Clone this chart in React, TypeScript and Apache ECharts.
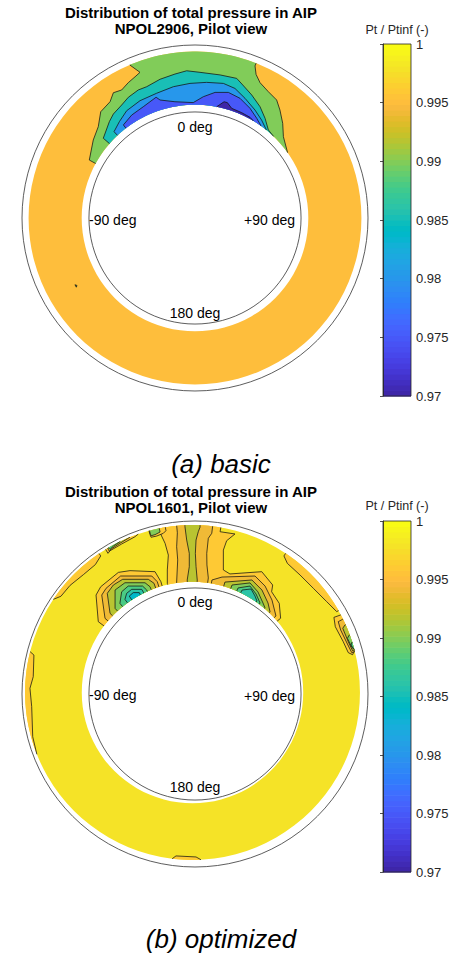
import React, { useEffect, useRef } from "react";
import * as echarts from "echarts";

type Pt = [number, number];
type Ring = { cx: number; cy: number; rIn: number; rOut: number };
type Region = { level: number; lines: Pt[][] };

// MATLAB parula, 64 entries
const PARULA: number[][] = [
  [0.2422, 0.1504, 0.6603], [0.2504, 0.165, 0.7076], [0.2578, 0.1818, 0.7511], [0.2647, 0.1978, 0.7952],
  [0.2706, 0.2147, 0.8364], [0.2751, 0.2342, 0.871], [0.2783, 0.2559, 0.8991], [0.2803, 0.2782, 0.9221],
  [0.2813, 0.3006, 0.9414], [0.281, 0.3228, 0.9579], [0.2795, 0.3447, 0.9717], [0.276, 0.3667, 0.9829],
  [0.2699, 0.3892, 0.9906], [0.2602, 0.4123, 0.9952], [0.244, 0.4358, 0.9988], [0.2206, 0.4603, 0.9973],
  [0.1963, 0.4847, 0.9892], [0.1834, 0.5074, 0.9798], [0.1786, 0.5289, 0.9682], [0.1764, 0.5499, 0.952],
  [0.1687, 0.5703, 0.9359], [0.154, 0.5902, 0.9218], [0.146, 0.6091, 0.9079], [0.138, 0.6276, 0.8973],
  [0.1248, 0.6459, 0.8883], [0.1113, 0.6635, 0.8763], [0.0952, 0.6798, 0.8598], [0.0689, 0.6948, 0.8394],
  [0.0297, 0.7082, 0.8163], [0.0036, 0.7203, 0.7917], [0.0067, 0.7312, 0.766], [0.0433, 0.7411, 0.7394],
  [0.0964, 0.75, 0.712], [0.1408, 0.7584, 0.6842], [0.1717, 0.767, 0.6554], [0.1938, 0.7758, 0.6251],
  [0.2161, 0.7843, 0.5923], [0.247, 0.7918, 0.5567], [0.2906, 0.7973, 0.5188], [0.3406, 0.8008, 0.4789],
  [0.3909, 0.8029, 0.4354], [0.4456, 0.8024, 0.3909], [0.5044, 0.7993, 0.348], [0.5616, 0.7942, 0.3045],
  [0.6174, 0.7876, 0.2612], [0.672, 0.7793, 0.2227], [0.7242, 0.7698, 0.191], [0.7738, 0.7598, 0.1646],
  [0.8203, 0.7498, 0.1535], [0.8634, 0.7406, 0.1596], [0.9035, 0.733, 0.1774], [0.9393, 0.7288, 0.21],
  [0.9728, 0.7298, 0.2394], [0.9956, 0.7434, 0.2371], [0.997, 0.7659, 0.2199], [0.9952, 0.7893, 0.2028],
  [0.9892, 0.8136, 0.1885], [0.9786, 0.8386, 0.1766], [0.9676, 0.8639, 0.1643], [0.961, 0.889, 0.1537],
  [0.9597, 0.9135, 0.1423], [0.9628, 0.9373, 0.1265], [0.9691, 0.9606, 0.1064], [0.9769, 0.9839, 0.0805],
];

const CB_MIN = 0.97;
const CB_MAX = 1.0;
const CB_INTERVAL = 0.005;
const CB_TITLE = "Pt / Ptinf (-)";

const CASING_R = 1.0;
const HUB_R = 0.613;
const ANGLE_LABELS = ["0 deg", "-90 deg", "+90 deg", "180 deg"];

// ---------- (a) basic : NPOL2906 ----------
const A_TITLE = ["Distribution of total pressure in AIP", "NPOL2906, Pilot view"];
const A_CAPTION = "(a) basic";
const A_RING: Ring = { cx: 0, cy: 0, rIn: 0.655, rOut: 0.962 };
const A_BASE_LEVEL = 0.995;
const A_GREEN_L: Pt[] = [[-0.611, 0.335], [-0.588, 0.451], [-0.559, 0.528], [-0.545, 0.614], [-0.491, 0.672], [-0.472, 0.724], [-0.424, 0.74], [-0.386, 0.782], [-0.341, 0.821], [-0.318, 0.842], [-0.376, 0.884]];
const A_GREEN_R: Pt[] = [[0.347, 0.879], [0.353, 0.83], [0.376, 0.782], [0.424, 0.73], [0.472, 0.682], [0.491, 0.624], [0.507, 0.547], [0.511, 0.47], [0.53, 0.374]];
const A_TEAL: Pt[] = [[-0.53, 0.461], [-0.495, 0.557], [-0.472, 0.601], [-0.424, 0.653], [-0.385, 0.698], [-0.328, 0.74], [-0.279, 0.759], [-0.202, 0.802], [-0.116, 0.832], [-0.048, 0.851], [0.029, 0.842], [0.145, 0.827], [0.241, 0.807], [0.276, 0.769], [0.328, 0.711], [0.376, 0.643], [0.405, 0.576], [0.424, 0.509], [0.453, 0.47]];
const A_BLUE: Pt[] = [[-0.468, 0.499], [-0.437, 0.557], [-0.395, 0.62], [-0.318, 0.678], [-0.222, 0.721], [-0.125, 0.759], [-0.029, 0.778], [0.067, 0.784], [0.164, 0.778], [0.231, 0.749], [0.289, 0.692], [0.347, 0.624], [0.385, 0.566], [0.41, 0.505]];
const A_VIOLET: Pt[] = [[-0.414, 0.538], [-0.366, 0.595], [-0.299, 0.643], [-0.225, 0.698], [-0.202, 0.682], [-0.116, 0.672], [-0.01, 0.667], [0.048, 0.701], [0.116, 0.726], [0.193, 0.726], [0.26, 0.692], [0.318, 0.634], [0.357, 0.576], [0.376, 0.524]];
const A_PURPLE: Pt[] = [[0.125, 0.643], [0.168, 0.672], [0.187, 0.667], [0.212, 0.634], [0.27, 0.609], [0.318, 0.582], [0.333, 0.551]];
const A_SPECK: Pt[] = [[-0.694, -0.386], [-0.682, -0.39], [-0.686, -0.4], [-0.694, -0.386]];
const A_REGIONS: Region[] = [
  { level: 0.99, lines: [A_GREEN_L, A_GREEN_R] },
  { level: 0.99, lines: [A_SPECK] },
  { level: 0.985, lines: [A_TEAL] },
  { level: 0.98, lines: [A_BLUE] },
  { level: 0.975, lines: [A_VIOLET] },
  { level: 0.97, lines: [A_PURPLE] },
];

// ---------- (b) optimized : NPOL1601 ----------
const B_TITLE = ["Distribution of total pressure in AIP", "NPOL1601, Pilot view"];
const B_CAPTION = "(b) optimized";
const B_RING: Ring = { cx: -0.0145, cy: 0.0087, rIn: 0.64, rOut: 0.968 };
const B_BASE_LEVEL = 0.998;
const B_C1_L: Pt[] = [[-0.16, 0.64], [-0.16, 0.717], [-0.154, 0.803], [-0.173, 0.871], [-0.202, 0.932]];
const B_C1_R: Pt[] = [[0.145, 0.938], [0.231, 0.925], [0.183, 0.886], [0.164, 0.832], [0.164, 0.717], [0.202, 0.694], [0.386, 0.707], [0.449, 0.63], [0.443, 0.591], [0.487, 0.524], [0.495, 0.438]];
const B_C2_L: Pt[] = [[-0.106, 0.64], [-0.1, 0.775], [-0.106, 0.851], [-0.102, 0.932]];
const B_C2_R: Pt[] = [[0.097, 0.929], [0.077, 0.9], [0.068, 0.813], [0.069, 0.746], [0.077, 0.671]];
const B_OL_L: Pt[] = [[-0.045, 0.659], [-0.033, 0.736], [-0.033, 0.813], [-0.048, 0.89], [-0.058, 0.967]];
const B_OL_R: Pt[] = [[0.029, 0.964], [0.019, 0.938], [0.006, 0.89], [0.002, 0.813], [0.006, 0.736], [0.013, 0.659]];
const B_L1: Pt[] = [[-0.559, 0.418], [-0.572, 0.572], [-0.545, 0.62], [-0.443, 0.703], [-0.376, 0.713], [-0.231, 0.707], [-0.197, 0.649]];
const B_L2: Pt[] = [[-0.52, 0.437], [-0.539, 0.572], [-0.514, 0.611], [-0.43, 0.682], [-0.25, 0.682], [-0.218, 0.649]];
const B_L3: Pt[] = [[-0.491, 0.466], [-0.507, 0.582], [-0.472, 0.63], [-0.418, 0.663], [-0.27, 0.663], [-0.237, 0.64]];
const B_L4: Pt[] = [[-0.462, 0.495], [-0.462, 0.601], [-0.405, 0.643], [-0.289, 0.643], [-0.26, 0.62]];
const B_L5: Pt[] = [[-0.434, 0.524], [-0.424, 0.591], [-0.386, 0.624], [-0.303, 0.624], [-0.279, 0.601]];
const B_L6: Pt[] = [[-0.405, 0.547], [-0.395, 0.582], [-0.366, 0.605], [-0.308, 0.605], [-0.295, 0.582]];
const B_L7: Pt[] = [[-0.38, 0.566], [-0.357, 0.586], [-0.322, 0.586], [-0.312, 0.566]];
const B_R2: Pt[] = [[0.098, 0.659], [0.156, 0.676], [0.347, 0.682], [0.405, 0.624], [0.445, 0.543], [0.468, 0.451]];
const B_R3: Pt[] = [[0.173, 0.647], [0.329, 0.659], [0.387, 0.601], [0.422, 0.526], [0.434, 0.474]];
const B_R4: Pt[] = [[0.214, 0.63], [0.318, 0.642], [0.364, 0.59], [0.393, 0.526], [0.405, 0.497]];
const B_R5: Pt[] = [[0.249, 0.613], [0.318, 0.624], [0.353, 0.578], [0.376, 0.526]];
const B_R6: Pt[] = [[0.272, 0.601], [0.324, 0.607], [0.347, 0.566], [0.358, 0.538]];
const B_F1A: Pt[] = [[-0.328, 0.925], [-0.347, 0.909], [-0.424, 0.867], [-0.491, 0.828], [-0.503, 0.813], [-0.514, 0.832]];
const B_F1B: Pt[] = [[-0.376, 0.906], [-0.434, 0.871], [-0.482, 0.84], [-0.495, 0.825], [-0.501, 0.836]];
const B_F1C: Pt[] = [[-0.434, 0.886], [-0.472, 0.855], [-0.491, 0.836], [-0.497, 0.842]];
const B_F2A: Pt[] = [[-0.168, 0.944], [-0.183, 0.929], [-0.221, 0.913], [-0.254, 0.906], [-0.26, 0.921]];
const B_F2B: Pt[] = [[-0.202, 0.936], [-0.231, 0.921], [-0.253, 0.915], [-0.258, 0.925]];
const B_LS1: Pt[] = [[-0.819, 0.547], [-0.775, 0.565], [-0.722, 0.628], [-0.645, 0.69], [-0.576, 0.748], [-0.545, 0.798]];
const B_LS2: Pt[] = [[-0.954, 0.245], [-0.931, 0.225], [-0.935, 0.1], [-0.954, 0.033], [-0.944, -0.073], [-0.938, -0.247], [-0.925, -0.353]];
const B_RS1: Pt[] = [[0.514, 0.798], [0.534, 0.755], [0.607, 0.688], [0.684, 0.611], [0.761, 0.534], [0.819, 0.476]];
const B_S1: Pt[] = [[0.842, 0.457], [0.803, 0.443], [0.811, 0.389], [0.857, 0.302], [0.886, 0.239], [0.911, 0.227], [0.931, 0.254]];
const B_S2: Pt[] = [[0.854, 0.432], [0.828, 0.418], [0.842, 0.37], [0.881, 0.289], [0.906, 0.239], [0.925, 0.245]];
const B_S3: Pt[] = [[0.867, 0.399], [0.854, 0.38], [0.886, 0.302], [0.911, 0.25], [0.925, 0.25]];
const B_S4: Pt[] = [[0.892, 0.341], [0.881, 0.322], [0.906, 0.27], [0.923, 0.258]];
const B_S5: Pt[] = [[0.91, 0.302], [0.902, 0.283], [0.919, 0.258]];
const B_BOT: Pt[] = [[-0.133, -0.96], [-0.11, -0.936], [0.006, -0.942], [0.035, -0.965]];
const B_REGIONS: Region[] = [
  { level: 0.996, lines: [B_C1_L, B_C1_R] },
  { level: 0.996, lines: [B_L1] },
  { level: 0.996, lines: [B_F1A] },
  { level: 0.996, lines: [B_F2A] },
  { level: 0.996, lines: [B_LS1] },
  { level: 0.996, lines: [B_LS2] },
  { level: 0.996, lines: [B_RS1] },
  { level: 0.996, lines: [B_S1] },
  { level: 0.996, lines: [B_BOT] },
  { level: 0.994, lines: [B_C2_L, B_C2_R] },
  { level: 0.994, lines: [B_L2] },
  { level: 0.994, lines: [B_R2] },
  { level: 0.994, lines: [B_S2] },
  { level: 0.992, lines: [B_OL_L, B_OL_R] },
  { level: 0.992, lines: [B_L3] },
  { level: 0.992, lines: [B_R3] },
  { level: 0.992, lines: [B_F1B] },
  { level: 0.992, lines: [B_S3] },
  { level: 0.99, lines: [B_L4] },
  { level: 0.99, lines: [B_R4] },
  { level: 0.99, lines: [B_F2B] },
  { level: 0.99, lines: [B_S4] },
  { level: 0.988, lines: [B_L5] },
  { level: 0.988, lines: [B_R5] },
  { level: 0.988, lines: [B_F1C] },
  { level: 0.988, lines: [B_S5] },
  { level: 0.986, lines: [B_L6] },
  { level: 0.986, lines: [B_R6] },
  { level: 0.984, lines: [B_L7] },
];

const FONT = '"Liberation Sans", Arial, Helvetica, sans-serif';

function levelColor(v: number): string {
  const idx = Math.max(0, Math.min(63, Math.floor(((v - CB_MIN) / (CB_MAX - CB_MIN)) * 64 + 1e-6)));
  const c = PARULA[idx];
  return `rgb(${Math.round(c[0] * 255)},${Math.round(c[1] * 255)},${Math.round(c[2] * 255)})`;
}
function toPolar(p: Pt, g: Ring): [number, number] {
  const dx = p[0] - g.cx, dy = p[1] - g.cy;
  return [Math.hypot(dx, dy), Math.atan2(dy, dx)];
}
function fromPolar(r: number, t: number, g: Ring): Pt {
  return [g.cx + r * Math.cos(t), g.cy + r * Math.sin(t)];
}
function clampR(p: Pt, g: Ring): Pt {
  const [r, t] = toPolar(p, g);
  return fromPolar(Math.min(g.rOut, Math.max(g.rIn, r)), t, g);
}
function nearestR(p: Pt, g: Ring): number {
  const r = toPolar(p, g)[0];
  return Math.abs(r - g.rIn) < Math.abs(r - g.rOut) ? g.rIn : g.rOut;
}
function prepLine(line: Pt[], g: Ring) {
  const a = line[0], b = line[line.length - 1];
  const closed = line.length > 2 && a[0] === b[0] && a[1] === b[1];
  const pts = line.map((p) => clampR(p, g));
  if (closed) return { pts, closed };
  const pa = fromPolar(nearestR(a, g), toPolar(a, g)[1], g);
  const pb = fromPolar(nearestR(b, g), toPolar(b, g)[1], g);
  return { pts: [pa, ...pts, pb], closed };
}
function arcPts(a: Pt, b: Pt, R: number, g: Ring): Pt[] {
  const ta = toPolar(a, g)[1], tb = toPolar(b, g)[1];
  let d = tb - ta;
  while (d > Math.PI) d -= 2 * Math.PI;
  while (d < -Math.PI) d += 2 * Math.PI;
  const n = Math.max(2, Math.ceil(Math.abs(d) / ((Math.PI / 180) * 1.5)));
  const out: Pt[] = [];
  for (let k = 1; k < n; k++) out.push(fromPolar(R, ta + (d * k) / n, g));
  return out;
}
function buildGeom(regions: Region[], g: Ring) {
  const sorted = regions.slice().sort((x, y) => y.level - x.level);
  return sorted.map((reg) => {
    const preps = reg.lines.map((l) => prepLine(l, g));
    let fill: Pt[] = [];
    if (preps.length === 1 && preps[0].closed) fill = preps[0].pts;
    else {
      preps.forEach((pl, i) => {
        fill.push(...pl.pts);
        const next = preps[(i + 1) % preps.length];
        const a = pl.pts[pl.pts.length - 1], b = next.pts[0];
        fill.push(...arcPts(a, b, nearestR(a, g), g));
      });
    }
    return { level: reg.level, color: levelColor(reg.level), fill, strokes: preps.map((p) => p.pts) };
  });
}

const A_GEOM = buildGeom(A_REGIONS, A_RING);
const B_GEOM = buildGeom(B_REGIONS, B_RING);

function ringSeries(idx: number, g: Ring, base: number) {
  return {
    type: "custom", xAxisIndex: idx, yAxisIndex: idx, z: 1, silent: true, data: [[g.cx, g.cy]],
    renderItem: (_p: any, api: any) => {
      const c = api.coord([g.cx, g.cy]);
      const ro = api.coord([g.cx + g.rOut, g.cy])[0] - c[0];
      const ri = api.coord([g.cx + g.rIn, g.cy])[0] - c[0];
      return { type: "ring", shape: { cx: c[0], cy: c[1], r: ro, r0: ri }, style: { fill: levelColor(base) } };
    },
  };
}
function contourSeries(idx: number, geom: ReturnType<typeof buildGeom>) {
  return {
    type: "custom", xAxisIndex: idx, yAxisIndex: idx, z: 2, silent: true,
    data: geom.map((gm) => [0, 0, gm.level]),
    renderItem: (p: any, api: any) => {
      const gm = geom[p.dataIndex];
      const children: any[] = [
        { type: "polygon", shape: { points: gm.fill.map((q) => api.coord(q)) }, style: { fill: gm.color } },
      ];
      gm.strokes.forEach((s) => {
        children.push({ type: "polyline", shape: { points: s.map((q) => api.coord(q)) }, style: { stroke: "#111", lineWidth: 0.75, fill: null } });
      });
      return { type: "group", children };
    },
  };
}
function circleSeries(idx: number) {
  return {
    type: "custom", xAxisIndex: idx, yAxisIndex: idx, z: 3, silent: true, data: [[0, 0]],
    renderItem: (_p: any, api: any) => {
      const c = api.coord([0, 0]);
      const r1 = api.coord([CASING_R, 0])[0] - c[0];
      const r2 = api.coord([HUB_R, 0])[0] - c[0];
      const st = { fill: null, stroke: "#333", lineWidth: 0.8 };
      return { type: "group", children: [
        { type: "circle", shape: { cx: c[0], cy: c[1], r: r1 }, style: st },
        { type: "circle", shape: { cx: c[0], cy: c[1], r: r2 }, style: st },
      ] };
    },
  };
}
function colorbarSeries(idx: number) {
  const step = (CB_MAX - CB_MIN) / PARULA.length;
  return {
    type: "custom", xAxisIndex: idx, yAxisIndex: idx, z: 2, silent: true,
    data: PARULA.map((_c, i) => [0.5, CB_MIN + (i + 0.5) * step]),
    renderItem: (p: any, api: any) => {
      const i = p.dataIndex;
      const p0 = api.coord([0, CB_MIN + i * step]);
      const p1 = api.coord([1, CB_MIN + (i + 1) * step]);
      const c = PARULA[i];
      const col = `rgb(${Math.round(c[0] * 255)},${Math.round(c[1] * 255)},${Math.round(c[2] * 255)})`;
      return { type: "rect", shape: { x: p0[0], y: p1[1], width: p1[0] - p0[0], height: p0[1] - p1[1] + 0.6 }, style: { fill: col } };
    },
  };
}
function frameSeries(idx: number) {
  return {
    type: "custom", xAxisIndex: idx, yAxisIndex: idx, z: 5, silent: true, data: [[0, CB_MIN]],
    renderItem: (_p: any, api: any) => {
      const p0 = api.coord([0, CB_MIN]);
      const p1 = api.coord([1, CB_MAX]);
      return { type: "rect", shape: { x: p0[0], y: p1[1], width: p1[0] - p0[0], height: p0[1] - p1[1] }, style: { fill: null, stroke: "#262626", lineWidth: 0.8 } };
    },
  };
}

function txt(x: number, y: number, text: string, font: string, align = "center", color = "#000", lineHeight?: number) {
  const style: any = { text, font, fill: color, textAlign: align, textVerticalAlign: "middle" };
  if (lineHeight) style.lineHeight = lineHeight;
  return { type: "text", x, y, z: 100, silent: true, style };
}

export default function App() {
  const ref = useRef<HTMLDivElement>(null);
  useEffect(() => {
    if (!ref.current) return;
    const chart = echarts.init(ref.current, undefined, { renderer: "svg" });
    const panelAxis = (gi: number) => ({ type: "value", gridIndex: gi, min: -1, max: 1, show: false });
    const cbX = (gi: number) => ({ type: "value", gridIndex: gi, min: 0, max: 1, show: false });
    const cbY = (gi: number) => ({
      type: "value", gridIndex: gi, min: CB_MIN, max: CB_MAX, interval: CB_INTERVAL, position: "right", z: 10,
      axisLine: { show: true, lineStyle: { color: "#262626", width: 0.8 } },
      axisTick: { show: true, inside: true, length: 3, lineStyle: { color: "#262626", width: 0.8 } },
      splitLine: { show: false },
      axisLabel: { fontSize: 13, fontFamily: FONT, color: "#262626", margin: 5, formatter: (v: number) => String(parseFloat(v.toFixed(3))) },
    });
    const fTitle = `bold 15px ${FONT}`;
    const fLab = `14px ${FONT}`;
    const fCb = `12.5px ${FONT}`;
    const fCap = `italic 26px ${FONT}`;
    const graphic = [
      txt(191, 20.5, A_TITLE.join("\n"), fTitle, "center", "#000", 16),
      txt(191, 499, B_TITLE.join("\n"), fTitle, "center", "#000", 16),
      txt(397, 30, CB_TITLE, fCb, "center", "#262626"), txt(397, 506, CB_TITLE, fCb, "center", "#262626"),
      txt(221, 464, A_CAPTION, fCap), txt(221, 939, B_CAPTION, fCap),
      txt(195, 127, ANGLE_LABELS[0], fLab), txt(89, 220, ANGLE_LABELS[1], fLab, "left"),
      txt(295, 220, ANGLE_LABELS[2], fLab, "right"), txt(195, 313, ANGLE_LABELS[3], fLab),
      txt(195, 602, ANGLE_LABELS[0], fLab), txt(89, 695, ANGLE_LABELS[1], fLab, "left"),
      txt(295, 696, ANGLE_LABELS[2], fLab, "right"), txt(195, 787, ANGLE_LABELS[3], fLab),
    ];
    chart.setOption({
      animation: false,
      backgroundColor: "#fff",
      grid: [
        { left: 22, top: 45, width: 346, height: 346 },
        { left: 22, top: 521, width: 346, height: 346 },
        { left: 383, top: 44, width: 28, height: 352 },
        { left: 383, top: 521, width: 28, height: 351 },
      ],
      xAxis: [panelAxis(0), panelAxis(1), cbX(2), cbX(3)],
      yAxis: [panelAxis(0), panelAxis(1), cbY(2), cbY(3)],
      series: [
        ringSeries(0, A_RING, A_BASE_LEVEL), contourSeries(0, A_GEOM), circleSeries(0),
        ringSeries(1, B_RING, B_BASE_LEVEL), contourSeries(1, B_GEOM), circleSeries(1),
        colorbarSeries(2), frameSeries(2), colorbarSeries(3), frameSeries(3),
      ],
      graphic,
    });
    return () => chart.dispose();
  }, []);
  return <div ref={ref} style={{ position: "absolute", left: 0, top: 0, width: 457, height: 954 }} />;
}
